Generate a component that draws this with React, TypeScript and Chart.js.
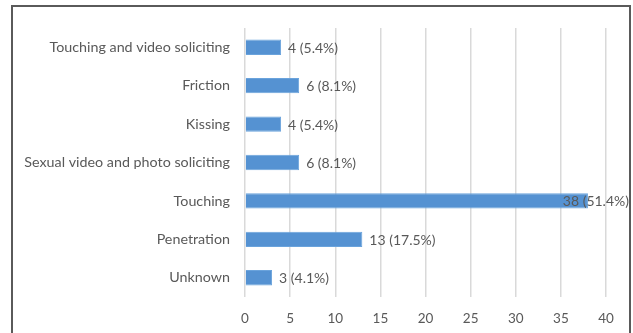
import React, { useEffect, useRef } from "react";
import { Chart, registerables } from "chart.js";

Chart.register(...registerables);

const categories = [
  "Touching and video soliciting",
  "Friction",
  "Kissing",
  "Sexual video and photo soliciting",
  "Touching",
  "Penetration",
  "Unknown",
];
const counts = [4, 6, 4, 6, 38, 13, 3];
const percents = ["5.4%", "8.1%", "5.4%", "8.1%", "51.4%", "17.5%", "4.1%"];
const xTicks = [0, 5, 10, 15, 20, 25, 30, 35, 40];

const FONT = "Lato, 'Open Sans', sans-serif";
const TEXT = "#595959";
const Y_FONT_SIZE = 14.3;
const Y_PAD = 15;
const LABEL_RIGHT = 215;

const labelPlugin = {
  id: "barLabels",
  afterDatasetsDraw(chart: any) {
    const ctx = chart.ctx;
    const meta = chart.getDatasetMeta(0);
    ctx.save();
    ctx.font = `14px ${FONT}`;
    ctx.fillStyle = TEXT;
    ctx.textBaseline = "middle";
    ctx.textAlign = "left";
    meta.data.forEach((bar: any, i: number) => {
      const text = `${counts[i]} (${percents[i]})`;
      const w = ctx.measureText(text).width;
      let x = bar.x + 7;
      const maxRight = chart.width - 4;
      if (x + w > maxRight) x = maxRight - w;
      ctx.fillText(text, x, bar.y + 1);
    });
    ctx.restore();
  },
};

export default function App() {
  const ref = useRef<HTMLCanvasElement | null>(null);
  useEffect(() => {
    if (!ref.current) return;
    const mctx = ref.current.getContext("2d")!;
    mctx.font = `${Y_FONT_SIZE}px ${FONT}`;
    const widest = Math.max(...categories.map((c) => mctx.measureText(c).width));
    const leftPad = Math.max(0, LABEL_RIGHT - widest);
    const chart = new Chart(ref.current, {
      type: "bar",
      data: {
        labels: categories,
        datasets: [
          {
            data: counts,
            backgroundColor: "#5592d2",
            borderColor: "#6aa3dc",
            borderWidth: 1,
            barPercentage: 0.8,
            categoryPercentage: 0.5,
          },
        ],
      },
      options: {
        indexAxis: "y",
        animation: false,
        responsive: false,
        maintainAspectRatio: false,
        layout: { padding: { top: 28, right: 27, left: leftPad, bottom: 0 } },
        plugins: {
          legend: { display: false },
          tooltip: { enabled: false },
        },
        scales: {
          x: {
            min: 0,
            max: 40,
            afterBuildTicks(scale: any) {
              scale.ticks = xTicks.map((v) => ({ value: v }));
            },
            afterFit(scale: any) {
              scale.height = 36;
            },
            grid: { color: "#d9d9d9", lineWidth: 1.5, drawTicks: false },
            border: { display: false },
            ticks: {
              padding: 14,
              maxRotation: 0,
              color: TEXT,
              font: { family: FONT, size: 13.5 },
            },
          },
          y: {
            grid: { display: false, drawTicks: false },
            border: { display: false },
            ticks: {
              padding: Y_PAD,
              color: TEXT,
              font: { family: FONT, size: Y_FONT_SIZE },
            },
          },
        },
      },
      plugins: [labelPlugin],
    });
    return () => chart.destroy();
  }, []);

  return (
    <div style={{ position: "fixed", left: 0, top: 0, width: 633, height: 333, background: "#fff" }}>
      <canvas ref={ref} width={633} height={333} style={{ position: "absolute", left: 0, top: 0 }} />
      <div
        style={{
          position: "absolute",
          left: 11,
          top: 5,
          width: 620,
          height: 340,
          border: "2px solid #5a5a5a",
          borderBottom: "none",
          boxSizing: "border-box",
          pointerEvents: "none",
        }}
      />
    </div>
  );
}
